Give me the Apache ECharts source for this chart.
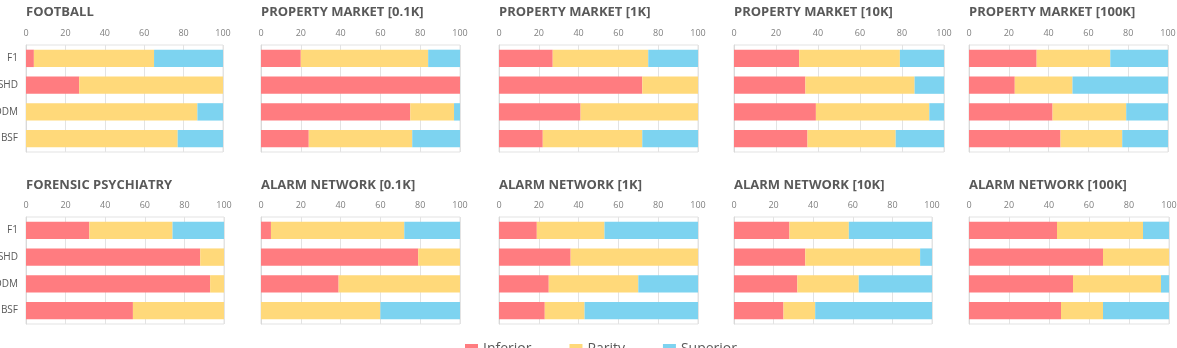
<!DOCTYPE html>
<html><head><meta charset="utf-8">
<script src="https://cdn.jsdelivr.net/npm/echarts@6/dist/echarts.min.js"></script>
<style>html,body{margin:0;padding:0;background:#fff}#c{width:1177px;height:348px}</style>
</head><body><div id="c"></div>
<script>
const titles = ['FOOTBALL','PROPERTY MARKET [0.1K]','PROPERTY MARKET [1K]','PROPERTY MARKET [10K]','PROPERTY MARKET [100K]',
  'FORENSIC PSYCHIATRY','ALARM NETWORK [0.1K]','ALARM NETWORK [1K]','ALARM NETWORK [10K]','ALARM NETWORK [100K]'];
const categories = ['F1','SHD','DDM','BSF'];
const seriesNames = ['Inferior','Parity','Superior'];
const xTicks = [0,20,40,60,80,100];
// values per panel, order of categories
const inferior = [
  [4,27,0,0],[20,100,75,24],[27,72,41,22],[31,34,39,35],[34,23,42,46],
  [32,88,93,54],[5,79,39,0],[19,36,25,23],[28,36,32,25],[44,67,52,46]
];
const parity = [
  [61,73,87,77],[64,0,22,52],[48,28,59,50],[48,52,54,42],[37,29,37,31],
  [42,12,7,46],[67,21,61,60],[34,64,45,20],[30,58,31,16],[43,33,44,21]
];
const superior = [
  [35,0,13,23],[16,0,3,24],[25,0,0,28],[21,14,7,23],[29,48,21,23],
  [26,0,0,0],[28,0,0,40],[47,0,30,57],[42,6,37,59],[13,0,4,33]
];
const colors = ['#FF7C80','#FFD97A','#7DD3F0'];

const lefts = [26,261,499,734,969];
const widthsTop = [197,199,199,210,199];
const widthsBot = [198,199,199,198,200];
const tops = [45,217];
const h = 107;

const grids=[], xAxes=[], yAxes=[], series=[], titleOpts=[];
for (let p=0;p<10;p++){
  const r = Math.floor(p/5), c = p%5;
  const w = r===0 ? widthsTop[c] : widthsBot[c];
  grids.push({left:lefts[c], top:tops[r], width:w, height:h, show:true, borderColor:'#e3e3e3', borderWidth:1,
    containLabel:false, outerBoundsMode:'none'});
  titleOpts.push({text:titles[p], left:lefts[c], top:(r===0?6:179), padding:0,
    textStyle:{fontFamily:'Open Sans', fontSize:13, fontWeight:'bold', color:'#595959'}});
  xAxes.push({type:'value', gridIndex:p, min:0, max:100, interval:20, position:'top',
    axisLine:{show:false}, axisTick:{show:false},
    axisLabel:{fontFamily:'Open Sans', fontSize:9, color:'#808080', margin:7, formatter:v=>xTicks.includes(v)?String(v):''},
    splitLine:{lineStyle:{color:'#e3e3e3'}}});
  yAxes.push({type:'category', gridIndex:p, data:categories, inverse:true,
    axisLine:{show:true, lineStyle:{color:'#d9d9d9'}}, axisTick:{show:false},
    axisLabel:{show:c===0, fontFamily:'Open Sans', fontSize:10, color:'#595959', margin:8}});
  const vals=[inferior[p],parity[p],superior[p]];
  for (let s=0;s<3;s++){
    series.push({name:seriesNames[s], type:'bar', stack:'st'+p, xAxisIndex:p, yAxisIndex:p,
      data:vals[s], barWidth:'65%', itemStyle:{color:colors[s]}, silent:true});
  }
}
const chart = echarts.init(document.getElementById('c'), null, {renderer:'canvas'});
chart.setOption({
  animation:false,
  title:titleOpts,
  legend:{data:seriesNames, top:342, left:465, padding:0, itemWidth:13, itemHeight:10, itemGap:38,
    icon:'rect', textStyle:{fontFamily:'Open Sans', fontSize:14, color:'#595959'}},
  grid:grids, xAxis:xAxes, yAxis:yAxes, series:series
});
</script></body></html>
